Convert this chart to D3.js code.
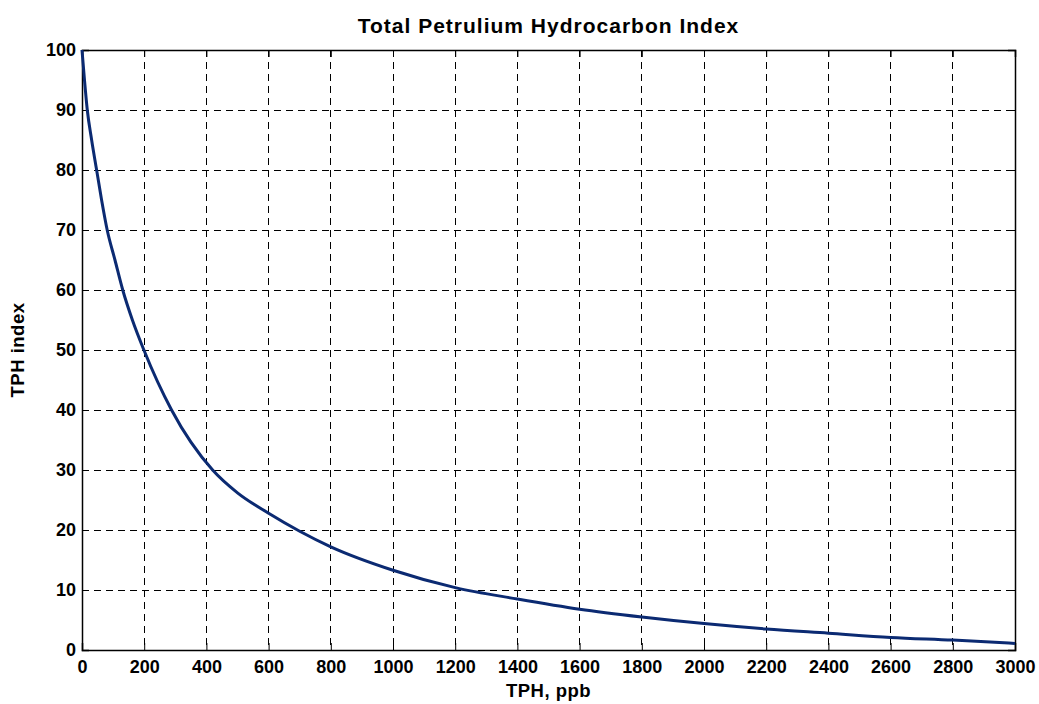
<!DOCTYPE html>
<html>
<head>
<meta charset="utf-8">
<script src="https://cdn.jsdelivr.net/npm/d3@7"></script>
<style>
  html, body { margin: 0; padding: 0; background: #fff; }
  svg { display: block; }
  text { font-family: "Liberation Sans", Arial, sans-serif; font-weight: bold; fill: #000; }
</style>
</head>
<body>
<svg id="chart" width="1039" height="704"></svg>
<script>
// Data
const tphPpb   = [0, 8, 17, 31, 47, 63, 81, 106, 131, 162, 199, 288, 420, 500, 600, 700, 800, 1000, 1200, 1400, 1600, 1800, 2000, 2200, 2400, 2600, 2800, 3000];
const tphIndex = [100, 95, 90, 85, 80, 75, 70, 65, 60, 55, 50, 40, 30, 26.2, 22.8, 19.8, 17.2, 13.3, 10.4, 8.5, 6.8, 5.5, 4.4, 3.5, 2.8, 2.1, 1.65, 1.1];
const xTicks = [0, 200, 400, 600, 800, 1000, 1200, 1400, 1600, 1800, 2000, 2200, 2400, 2600, 2800, 3000];
const yTicks = [0, 10, 20, 30, 40, 50, 60, 70, 80, 90, 100];
const titleText = "Total Petrulium Hydrocarbon Index";
const xLabel = "TPH, ppb";
const yLabel = "TPH index";

const svg = d3.select("#chart");
const m = { left: 82, right: 1015, top: 50, bottom: 650 };
const x = d3.scaleLinear().domain([0, 3000]).range([m.left, m.right]);
const y = d3.scaleLinear().domain([0, 100]).range([m.bottom, m.top]);

// grid
const grid = svg.append("g");
grid.selectAll(".vg").data(xTicks.slice(1, -1)).enter().append("line")
  .attr("x1", d => x(d)).attr("x2", d => x(d))
  .attr("y1", m.top).attr("y2", m.bottom)
  .attr("stroke", "#000").attr("stroke-width", 1).attr("stroke-dasharray", "7,5")
  .attr("shape-rendering", "crispEdges");
grid.selectAll(".hg").data(yTicks.slice(1, -1)).enter().append("line")
  .attr("x1", m.left).attr("x2", m.right)
  .attr("y1", d => y(d)).attr("y2", d => y(d))
  .attr("stroke", "#000").attr("stroke-width", 1).attr("stroke-dasharray", "7,5")
  .attr("shape-rendering", "crispEdges");

// axes (ticks inside, box)
const tickLen = 7;
const xAxisB = d3.axisBottom(x).tickValues(xTicks).tickSize(-tickLen).tickPadding(10).tickFormat(d3.format("d"));
const xAxisT = d3.axisTop(x).tickValues(xTicks).tickSize(-tickLen).tickFormat("");
const yAxisL = d3.axisLeft(y).tickValues(yTicks).tickSize(-tickLen).tickPadding(6).tickFormat(d3.format("d"));
const yAxisR = d3.axisRight(y).tickValues(yTicks).tickSize(-tickLen).tickFormat("");

function styleAxis(g) {
  g.selectAll("path").attr("stroke", "#000").attr("stroke-width", 1.5);
  g.selectAll("line").attr("stroke", "#000").attr("stroke-width", 1);
  g.selectAll("text").style("font-size", "18px").style("font-weight", "bold")
    .style("font-family", "'Liberation Sans', Arial, sans-serif").attr("fill", "#000");
}
svg.append("g").attr("transform", `translate(0,${m.bottom})`).call(xAxisB).call(styleAxis);
svg.append("g").attr("transform", `translate(0,${m.top})`).call(xAxisT).call(styleAxis);
svg.append("g").attr("transform", `translate(${m.left},0)`).call(yAxisL).call(styleAxis);
svg.append("g").attr("transform", `translate(${m.right},0)`).call(yAxisR).call(styleAxis);

// curve
const data = tphPpb.map((v, i) => ({ x: v, y: tphIndex[i] }));
svg.append("path").datum(data)
  .attr("fill", "none").attr("stroke", "#0b2a72").attr("stroke-width", 3)
  .attr("stroke-linejoin", "round")
  .attr("d", d3.line().x(d => x(d.x)).y(d => y(d.y)).curve(d3.curveMonotoneX));

// texts
svg.append("text").attr("x", (m.left + m.right) / 2).attr("y", 33)
  .attr("text-anchor", "middle").style("font-size", "21px").style("letter-spacing", "1px").text(titleText);
svg.append("text").attr("x", (m.left + m.right) / 2).attr("y", 697)
  .attr("text-anchor", "middle").style("font-size", "18.5px").style("letter-spacing", "0.5px").text(xLabel);
svg.append("text").attr("transform", `translate(24,${(m.top + m.bottom) / 2}) rotate(-90)`)
  .attr("text-anchor", "middle").style("font-size", "18.5px").style("letter-spacing", "0.5px").text(yLabel);
</script>
</body>
</html>
